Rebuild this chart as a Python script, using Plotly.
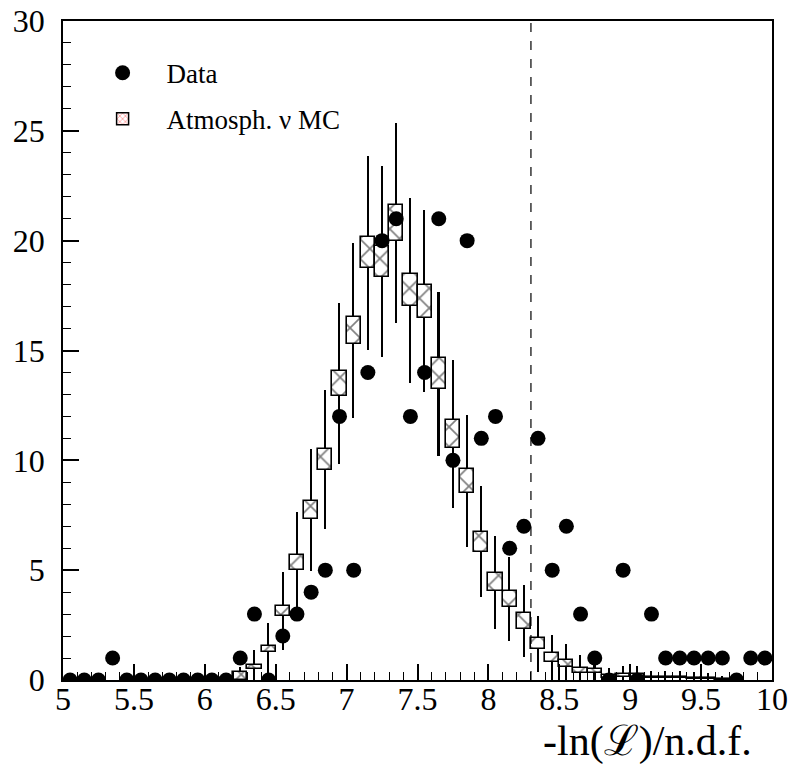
import plotly.graph_objects as go

# ---------------- data ----------------
bin_centers = [5.05, 5.15, 5.25, 5.35, 5.45, 5.55, 5.65, 5.75, 5.85, 5.95,
               6.05, 6.15, 6.25, 6.35, 6.45, 6.55, 6.65, 6.75, 6.85, 6.95,
               7.05, 7.15, 7.25, 7.35, 7.45, 7.55, 7.65, 7.75, 7.85, 7.95,
               8.05, 8.15, 8.25, 8.35, 8.45, 8.55, 8.65, 8.75, 8.85, 8.95,
               9.05, 9.15, 9.25, 9.35, 9.45, 9.55, 9.65, 9.75, 9.85, 9.95]

data_counts = [0, 0, 0, 1, 0, 0, 0, 0, 0, 0,
               0, 0, 1, 3, 0, 2, 3, 4, 5, 12,
               5, 14, 20, 21, 12, 14, 21, 10, 20, 11,
               12, 6, 7, 11, 5, 7, 3, 1, 0, 5,
               0, 3, 1, 1, 1, 1, 1, 0, 1, 1]

mc_x = [6.15, 6.25, 6.35, 6.45, 6.55, 6.65, 6.75, 6.85, 6.95, 7.05,
        7.15, 7.25, 7.35, 7.45, 7.55, 7.65, 7.75, 7.85, 7.95, 8.05,
        8.15, 8.25, 8.35, 8.45, 8.55, 8.65, 8.75, 8.85, 8.95, 9.05,
        9.15, 9.25, 9.35, 9.45, 9.55, 9.65]
mc_val = [0.05, 0.18, 0.6, 1.4, 3.15, 5.35, 7.75, 10.05, 13.5, 15.9,
          19.45, 19.05, 20.8, 17.75, 17.25, 13.95, 11.2, 9.05, 6.3, 4.45,
          3.7, 2.7, 1.65, 1.02, 0.75, 0.45, 0.4, 0.15, 0.2, 0.2,
          0.1, 0.1, 0.1, 0.08, 0.06, 0.03]
# half height of the hatched MC box (MC statistics)
mc_box = [0.03, 0.17, 0.1, 0.14, 0.22, 0.36, 0.41, 0.48, 0.55, 0.61,
          0.71, 0.7, 0.82, 0.73, 0.75, 0.7, 0.64, 0.55, 0.45, 0.41,
          0.36, 0.36, 0.25, 0.19, 0.15, 0.11, 0.1, 0.06, 0.06, 0.06,
          0.03, 0.03, 0.03, 0.03, 0.02, 0.02]
# half length of the vertical expected-fluctuation line
mc_err = [0.22, 0.42, 0.77, 1.18, 1.77, 2.31, 2.78, 3.17, 3.67, 3.99,
          4.41, 4.36, 4.56, 4.21, 4.15, 3.73, 3.35, 3.01, 2.51, 2.11,
          1.92, 1.64, 1.28, 1.01, 0.87, 0.67, 0.63, 0.39, 0.45, 0.45,
          0.32, 0.32, 0.32, 0.28, 0.24, 0.17]

cut_value = 8.3
x_ticks = [5, 5.5, 6, 6.5, 7, 7.5, 8, 8.5, 9, 9.5, 10]
x_tick_labels = ["5", "5.5", "6", "6.5", "7", "7.5", "8", "8.5", "9", "9.5", "10"]
y_ticks = [0, 5, 10, 15, 20, 25, 30]
y_tick_labels = ["0", "5", "10", "15", "20", "25", "30"]

FONT = "Liberation Serif, Times New Roman, serif"

fig = go.Figure()

# vertical fluctuation lines (thin bars drawn below the boxes)
fig.add_trace(go.Bar(
    x=mc_x,
    y=[2 * e for e in mc_err],
    base=[v - e for v, e in zip(mc_val, mc_err)],
    width=0.011,
    marker=dict(color="black", line=dict(width=0)),
    showlegend=False, hoverinfo="skip",
))

# hatched MC boxes
fig.add_trace(go.Bar(
    x=mc_x,
    y=[2 * b for b in mc_box],
    base=[v - b for v, b in zip(mc_val, mc_box)],
    width=0.1,
    marker=dict(color="white",
                line=dict(color="black", width=1.6),
                pattern=dict(shape="x", fgcolor="black", bgcolor="white",
                             size=14, solidity=0.22)),
    showlegend=False, hoverinfo="skip",
))

# data points
fig.add_trace(go.Scatter(
    x=bin_centers, y=data_counts, mode="markers",
    marker=dict(color="black", size=15, symbol="circle"),
    name="Data", legendgroup="a", cliponaxis=True,
))

# legend entry for MC (red hatched box)
fig.add_trace(go.Bar(
    x=[None], y=[None],
    marker=dict(color="white",
                line=dict(color="black", width=1.5),
                pattern=dict(shape="x", fgcolor="red", bgcolor="white",
                             size=5, solidity=0.3)),
    name="Atmosph. \u03bd MC", legendgroup="b",
))

fig.add_shape(type="line", xref="x", yref="paper",
              x0=cut_value, x1=cut_value, y0=0, y1=1,
              line=dict(color="black", width=1.2, dash="dash"))

fig.add_annotation(text="-ln(\u2112)/n.d.f.", xref="paper", yref="paper",
                   x=1.0, y=-0.094, xanchor="right", yanchor="middle", xshift=-18,
                   showarrow=False, font=dict(family=FONT, size=42, color="black"))

fig.update_layout(
    width=794, height=770,
    margin=dict(l=63, r=22, t=21, b=90, autoexpand=False),
    paper_bgcolor="white", plot_bgcolor="white",
    barmode="overlay", bargap=0,
    font=dict(family=FONT, color="black"),
    legend=dict(x=0.022, y=0.958, xanchor="left", yanchor="top",
                font=dict(family=FONT, size=27, color="black"),
                bgcolor="rgba(0,0,0,0)", borderwidth=0,
                traceorder="grouped", tracegroupgap=8, itemwidth=78),
    xaxis=dict(range=[5, 10], showline=True, linecolor="black", linewidth=1.5,
               mirror=True, ticks="inside", ticklen=16, tickwidth=1.5, tickcolor="black",
               tickvals=x_ticks, ticktext=x_tick_labels,
               tickfont=dict(family=FONT, size=32, color="black"),
               ticklabelstandoff=-10, automargin=False,
               minor=dict(ticks="inside", ticklen=8, tickwidth=1.2, tickcolor="black",
                          dtick=0.1, tick0=5, showgrid=False),
               showgrid=False, zeroline=False, fixedrange=True),
    yaxis=dict(range=[0, 30], showline=True, linecolor="black", linewidth=1.5,
               mirror=True, ticks="inside", ticklen=16, tickwidth=1.5, tickcolor="black",
               tickvals=y_ticks, ticktext=y_tick_labels,
               tickfont=dict(family=FONT, size=32, color="black"),
               ticklabelstandoff=10, automargin=False,
               minor=dict(ticks="inside", ticklen=8, tickwidth=1.2, tickcolor="black",
                          dtick=1, tick0=0, showgrid=False),
               showgrid=False, zeroline=False, fixedrange=True),
)

fig.write_html("out.html")
